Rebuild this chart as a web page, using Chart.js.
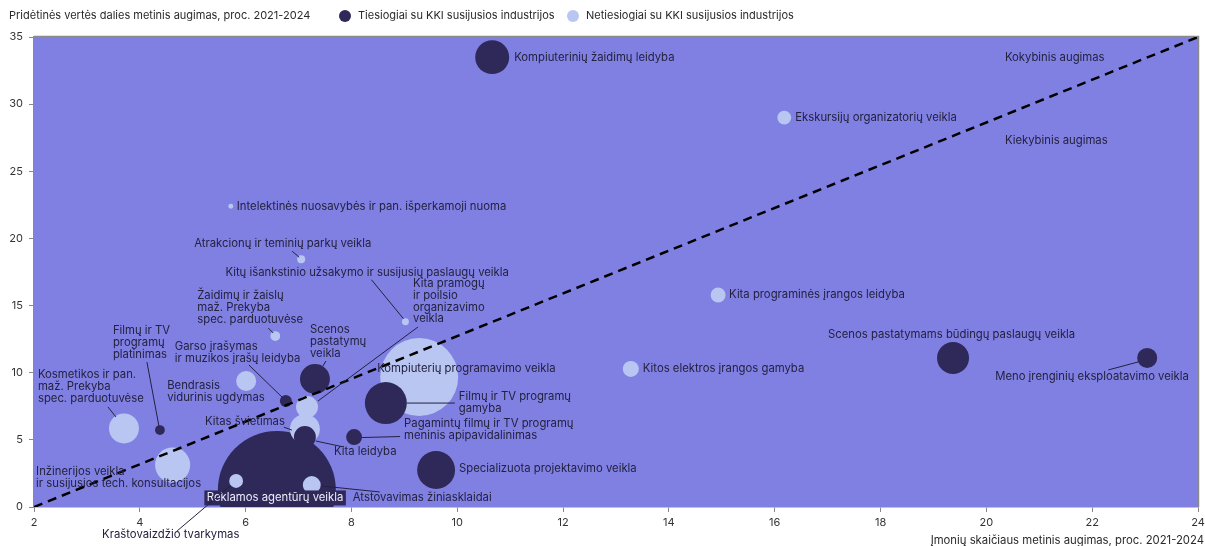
<!DOCTYPE html>
<html><head><meta charset="utf-8">
<script src="https://cdn.jsdelivr.net/npm/chart.js@4.4.1/dist/chart.umd.min.js"></script>
<style>html,body{margin:0;padding:0;background:#fff;overflow:hidden}#wrap{width:1205px;height:546px;position:relative}</style>
</head><body><div id="wrap"><canvas id="c" width="1205" height="546"></canvas></div>
<script>
// ---------- DATA ----------
const industries = [
  'Kompiuterinių žaidimų leidyba',
  'Ekskursijų organizatorių veikla',
  'Intelektinės nuosavybės ir pan. išperkamoji nuoma',
  'Atrakcionų ir teminių parkų veikla',
  'Kitų išankstinio užsakymo ir susijusių paslaugų veikla',
  'Kita pramogų\nir poilsio\norganizavimo\nveikla',
  'Žaidimų ir žaislų\nmaž. Prekyba\nspec. parduotuvėse',
  'Scenos\npastatymų\nveikla',
  'Garso įrašymas\nir muzikos įrašų leidyba',
  'Bendrasis\nvidurinis ugdymas',
  'Filmų ir TV\nprogramų\nplatinimas',
  'Kosmetikos ir pan.\nmaž. Prekyba\nspec. parduotuvėse',
  'Inžinerijos veikla\nir susijusios tech. konsultacijos',
  'Kitas švietimas',
  'Kita leidyba',
  'Pagamintų filmų ir TV programų\nmeninis apipavidalinimas',
  'Filmų ir TV programų\ngamyba',
  'Kompiuterių programavimo veikla',
  'Specializuota projektavimo veikla',
  'Atstovavimas žiniasklaidai',
  'Reklamos agentūrų veikla',
  'Kraštovaizdžio tvarkymas',
  'Kita programinės įrangos leidyba',
  'Kitos elektros įrangos gamyba',
  'Scenos pastatymams būdingų paslaugų veikla',
  'Meno įrenginių eksploatavimo veikla'
];
// x: įmonių skaičiaus metinis augimas, proc.
const firmGrowth = [10.66, 16.18, 5.72, 7.05, 9.02, 7.16, 6.56, 7.31, 6.76, 6.01, 4.38, 3.70, 4.62, 7.12, 7.12, 8.05, 8.65, 9.28, 9.60, 7.25, 6.59, 5.82, 14.93, 13.28, 19.37, 23.04];
// y: pridėtinės vertės dalies metinis augimas, proc.
const valueGrowth = [33.5, 29.0, 22.4, 18.45, 13.8, 7.45, 12.73, 9.53, 7.9, 9.38, 5.73, 5.85, 3.13, 5.8, 5.21, 5.21, 7.74, 9.68, 2.76, 1.64, 1.27, 1.94, 15.79, 10.28, 11.1, 11.1];
// bubble size (relative weight)
const sizeWeight = [72, 12, 1.5, 4, 3, 30, 6, 56, 9, 25, 6, 56, 77, 56, 30, 16, 110, 380, 90, 20, 870, 12, 14, 16, 64, 25];
// group: T = tiesiogiai, N = netiesiogiai
const groups = ['T','N','N','N','N','N','N','T','T','N','T','N','N','N','T','T','T','N','T','N','T','N','N','N','T','T'];
const seriesNames = ['Tiesiogiai su KKI susijusios industrijos', 'Netiesiogiai su KKI susijusios industrijos'];
const xTicks = [2,4,6,8,10,12,14,16,18,20,22,24];
const yTicks = [0,5,10,15,20,25,30,35];
const xTitle = 'Įmonių skaičiaus metinis augimas, proc. 2021-2024';
const yTitle = 'Pridėtinės vertės dalies metinis augimas, proc. 2021-2024';
const zoneLabels = ['Kokybinis augimas', 'Kiekybinis augimas'];
const diagonal = [[2, 0], [24, 35]];

// ---------- LAYOUT / STYLE ----------
const COLORS = { T: '#2e2959', N: '#b9c6f2', bg: '#8080e3', text: '#23213f', axis: '#8a8a8a' };
const FONT = 'Inter, "Open Sans", sans-serif';
const zonePos = [[20.35, 33.5], [20.35, 27.3]];
// label offsets relative to bubble centre (px): text left/first-line centre, optional leader [x1,y1,x2,y2]
const labelLayout = [
  {dx:22, dy:0},
  {dx:11, dy:0},
  {dx:6, dy:0},
  {dx:-107, dy:-16, lead:[-9,-8,-2,-2]},
  {dx:-180, dy:-49, lead:[-34,-42,-2,-3]},
  {dx:106, dy:-123, lead:[111,-80,11,-6]},
  {dx:-78, dy:-40, lead:[-7,-8,-2,-3]},
  {dx:-5, dy:-49, lead:[11,-18,8,-13]},
  {dx:-111, dy:-54, lead:[-37,-36,-3,-3]},
  {dx:-79, dy:5},
  {dx:-47, dy:-99, lead:[-13,-68,-1,-4]},
  {dx:-86, dy:-53.5, lead:[-16,-21.5,-8,-11.5]},
  {dx:-136.5, dy:7},
  {dx:-100, dy:-8, lead:[-21,-2,-13,1]},
  {dx:29, dy:15, lead:[11,4,39,10]},
  {dx:50, dy:-13, lead:[8,0.5,46,-0.5]},
  {dx:73, dy:-6, lead:[21,0,69,0]},
  {dx:-42, dy:-8},
  {dx:23, dy:-1},
  {dx:41, dy:13, lead:[10,1,68,7]},
  {dx:-70, dy:8, box:true},
  {dx:-134, dy:54, lead:[-6,5,-59,50]},
  {dx:11, dy:0},
  {dx:12, dy:0},
  {dx:-125, dy:-23},
  {dx:-152, dy:19, lead:[-39,12,-9,4]}
];
const radiusOf = w => 2 * Math.sqrt(w);

// bubble controller whose bubbles do not widen the layout padding
class FlatBubbleController extends Chart.BubbleController {
  getMaxOverflow() { return 0; }
}
FlatBubbleController.id = 'flatBubble';
FlatBubbleController.defaults = Chart.BubbleController.defaults;
FlatBubbleController.overrides = Chart.BubbleController.overrides;
Chart.register(FlatBubbleController);

// build points, biggest drawn first
const idx = industries.map((_, i) => i).sort((a, b) => sizeWeight[b] - sizeWeight[a]);
const points = idx.map(i => ({ x: firmGrowth[i], y: valueGrowth[i], r: radiusOf(sizeWeight[i]), i }));

const annot = {
  id: 'annot',
  beforeDatasetsDraw(chart) {
    const { ctx, chartArea: a } = chart;
    ctx.save();
    ctx.fillStyle = COLORS.bg;
    ctx.fillRect(a.left, a.top, a.right - a.left, a.bottom - a.top);
    ctx.strokeStyle = COLORS.axis;
    ctx.lineWidth = 1.5;
    ctx.beginPath();
    ctx.moveTo(a.left, a.top - 0.5); ctx.lineTo(a.right + 0.5, a.top - 0.5); ctx.lineTo(a.right + 0.5, a.bottom);
    ctx.stroke();
    ctx.restore();
  },
  afterDatasetsDraw(chart) {
    const { ctx, scales: { x, y } } = chart;
    ctx.save();
    ctx.font = '11.3px ' + FONT;
    ctx.textBaseline = 'middle';
    ctx.textAlign = 'left';
    const lh = 11.7;
    industries.forEach((name, i) => {
      const cx = x.getPixelForValue(firmGrowth[i]);
      const cy = y.getPixelForValue(valueGrowth[i]);
      const L = labelLayout[i];
      if (L.lead) {
        ctx.strokeStyle = COLORS.text; ctx.lineWidth = 1;
        ctx.beginPath();
        ctx.moveTo(cx + L.lead[0], cy + L.lead[1]);
        ctx.lineTo(cx + L.lead[2], cy + L.lead[3]);
        ctx.stroke();
      }
      const lines = name.split('\n');
      const tx = cx + L.dx, ty = cy + L.dy;
      if (L.box) {
        const w = ctx.measureText(lines[0]).width;
        ctx.fillStyle = COLORS.T;
        ctx.fillRect(tx - 2.5, ty - 7.5, w + 5, 15);
        ctx.fillStyle = '#ececfa';
      } else {
        ctx.fillStyle = COLORS.text;
      }
      lines.forEach((ln, k) => ctx.fillText(ln, tx, ty + k * lh));
    });
    ctx.fillStyle = COLORS.text;
    zoneLabels.forEach((t, k) => ctx.fillText(t, x.getPixelForValue(zonePos[k][0]), y.getPixelForValue(zonePos[k][1])));
    ctx.restore();
  },
  afterDraw(chart) {
    const { ctx } = chart;
    ctx.save();
    ctx.textBaseline = 'middle';
    ctx.font = '11px ' + FONT;
    ctx.fillStyle = '#2a2a2a';
    ctx.textAlign = 'left';
    ctx.fillText(yTitle, 9, 16);
    const legendX = [345, 573];
    seriesNames.forEach((s, k) => {
      ctx.fillStyle = k === 0 ? COLORS.T : COLORS.N;
      ctx.beginPath(); ctx.arc(legendX[k], 16, 6, 0, Math.PI * 2); ctx.fill();
      ctx.fillStyle = '#2a2a2a';
      ctx.fillText(s, legendX[k] + 13, 16);
    });
    ctx.font = '11.3px ' + FONT;
    ctx.textAlign = 'right';
    ctx.fillText(xTitle, 1204, 541);
    ctx.restore();
  }
};

new Chart(document.getElementById('c'), {
  type: 'bubble',
  data: {
    datasets: [
      {
        type: 'line',
        label: 'diagonal',
        data: diagonal.map(p => ({ x: p[0], y: p[1] })),
        borderColor: '#000',
        borderWidth: 2.5,
        borderDash: [9, 6],
        pointRadius: 0,
        fill: false,
        order: -1
      },
      {
        type: 'flatBubble',
        label: 'KKI industrijos',
        data: points,
        backgroundColor: points.map(p => COLORS[groups[p.i]]),
        borderWidth: 0,
        hoverRadius: 0,
        clip: 0,
        order: 1
      }
    ]
  },
  options: {
    responsive: false,
    animation: false,
    devicePixelRatio: 1,
    layout: { autoPadding: false, padding: { top: 37, right: 7, left: 0, bottom: 0 } },
    plugins: { legend: { display: false }, tooltip: { enabled: false } },
    events: [],
    scales: {
      x: {
        type: 'linear', min: 2, max: 24,
        afterFit: s => { s.height = 39; s.paddingLeft = 0; s.paddingRight = 0; },
        afterBuildTicks: s => { s.ticks = xTicks.map(v => ({ value: v })); },
        grid: { drawOnChartArea: false, tickLength: 5, color: COLORS.axis },
        border: { color: COLORS.axis, width: 1.5 },
        ticks: { color: '#333', font: { family: FONT, size: 11 }, padding: 4, maxRotation: 0 }
      },
      y: {
        type: 'linear', min: 0, max: 35,
        afterFit: s => { s.width = 34; s.paddingTop = 0; s.paddingBottom = 0; },
        afterBuildTicks: s => { s.ticks = yTicks.map(v => ({ value: v })); },
        grid: { drawOnChartArea: false, tickLength: 5, color: COLORS.axis },
        border: { color: COLORS.axis, width: 1.5 },
        ticks: { color: '#333', font: { family: FONT, size: 11 }, padding: 6 }
      }
    }
  },
  plugins: [annot]
});
</script></body></html>
